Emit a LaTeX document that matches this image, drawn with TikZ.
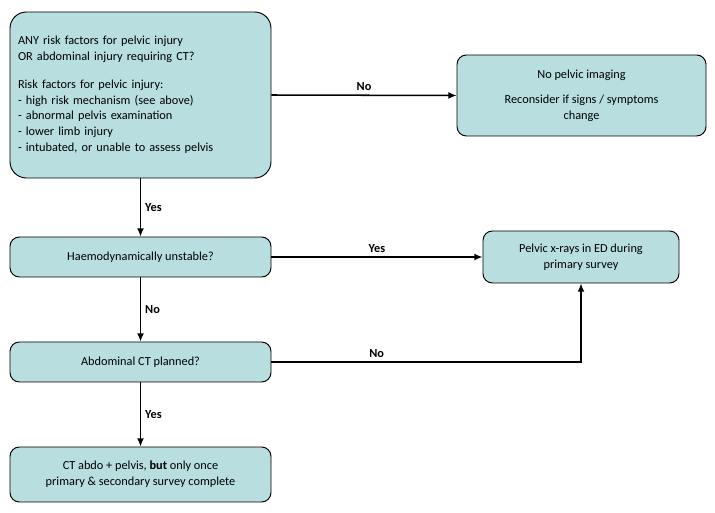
\documentclass[tikz,border=0pt]{standalone}
\usepackage{fontspec}
\setmainfont{Carlito}
\usetikzlibrary{arrows.meta, positioning}
\definecolor{boxfill}{HTML}{B8DEE0}
\tikzset{
    box/.style={draw, thick, fill=boxfill, rounded corners=8pt, align=center,
        font=\fontsize{10.5}{13.5}\selectfont, inner sep=2pt},
    flow/.style={-{Latex[length=7pt,width=6pt]}, line width=1.3pt},
    lbl/.style={font=\fontsize{10.5}{12}\selectfont\bfseries}
}
\begin{document}
\begin{tikzpicture}[x=0.03cm, y=-0.03cm]
    \useasboundingbox (0,0) rectangle (715,513);
    \node[box, rounded corners=14pt, minimum width=261*0.03cm, minimum height=166*0.03cm,
        align=left, text width=245*0.03cm] (risk) at (140.5,95)
        {ANY risk factors for pelvic injury\\OR abdominal injury requiring CT?\\[10pt]
         Risk factors for pelvic injury:\\
         - high risk mechanism (see above)\\
         - abnormal pelvis examination\\
         - lower limb injury\\
         - intubated, or unable to assess pelvis};
    \node[box, minimum width=249*0.03cm, minimum height=81*0.03cm] (noimg) at (581.5,95.5)
        {No pelvic imaging\\[8pt]Reconsider if signs / symptoms\\change};
    \node[box, minimum width=261*0.03cm, minimum height=40*0.03cm] (haemo) at (140.5,257)
        {Haemodynamically unstable?};
    \node[box, minimum width=196*0.03cm, minimum height=52*0.03cm] (xray) at (581,257)
        {Pelvic x-rays in ED during\\primary survey};
    \node[box, minimum width=261*0.03cm, minimum height=40*0.03cm] (abdo) at (140.5,362)
        {Abdominal CT planned?};
    \node[box, minimum width=261*0.03cm, minimum height=55*0.03cm] (ct) at (140.5,474.5)
        {CT abdo + pelvis, \textbf{but} only once\\primary \& secondary survey complete};
    \coordinate (turn) at (xray.south |- abdo.east);
    % connectors
    \draw[flow] (risk.east) -- node[lbl, above] {No} (noimg.west);
    \draw[flow] (risk.south) -- node[lbl, right] {Yes} (haemo.north);
    \draw[flow] (haemo.east) -- node[lbl, above, pos=0.5] {Yes} (haemo.east -| xray.west);
    \draw[flow] (haemo.south) -- node[lbl, right] {No} (abdo.north);
    \draw[flow] (abdo.east) -- node[lbl, above, pos=0.34] {No} (turn) -- (xray.south);
    \draw[flow] (abdo.south) -- node[lbl, right] {Yes} (ct.north);
\end{tikzpicture}
\end{document}
